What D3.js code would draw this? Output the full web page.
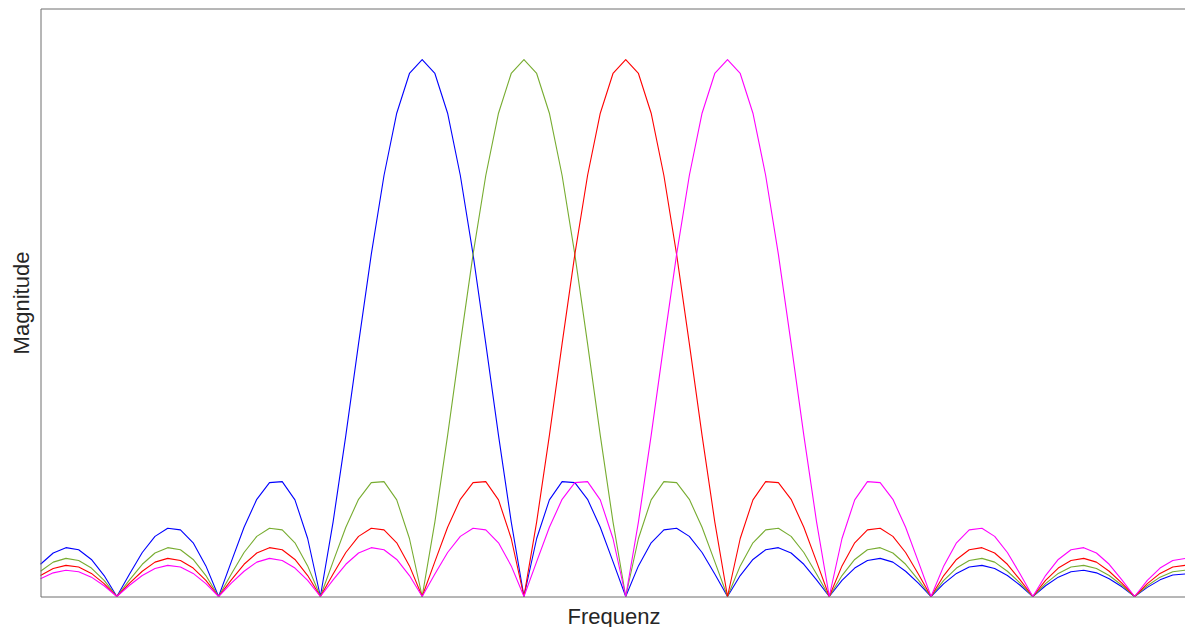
<!DOCTYPE html>
<html>
<head>
<meta charset="utf-8">
<script src="https://cdn.jsdelivr.net/npm/d3@7"></script>
<style>
html,body{margin:0;padding:0;background:#fff;overflow:hidden;}
svg{display:block;}
</style>
</head>
<body>
<svg id="chart" width="1185" height="627"></svg>
<script>
// sample index along the frequency axis (0..90), 8 samples per sub-carrier spacing
const sampleIndex = d3.range(0, 91);

const carrier1 = [
0.060,0.081,0.091,0.087,0.069,0.039,0,
0.042,0.082,0.112,0.127,0.124,0.100,0.057,0,
0.065,0.129,0.181,0.212,0.214,0.180,0.108,0,
0.139,0.300,0.471,0.637,0.784,0.900,0.974,1,
0.974,0.900,0.784,0.637,0.471,0.300,0.139,0,
0.108,0.180,0.214,0.212,0.181,0.129,0.065,0,
0.057,0.100,0.124,0.127,0.112,0.082,0.042,0,
0.039,0.069,0.087,0.091,0.081,0.060,0.031,0,
0.030,0.053,0.067,0.071,0.064,0.047,0.025,0,
0.024,0.043,0.055,0.058,0.052,0.039,0.021,0,
0.020,0.036,0.046,0.049,0.044,0.033,0.018,0,
0.017,0.031,0.040,0.042
];

const carrier2 = [
0.047,0.064,0.071,0.067,0.053,0.030,0,
0.031,0.060,0.081,0.091,0.087,0.069,0.039,0,
0.042,0.082,0.112,0.127,0.124,0.100,0.057,0,
0.065,0.129,0.181,0.212,0.214,0.180,0.108,0,
0.139,0.300,0.471,0.637,0.784,0.900,0.974,1,
0.974,0.900,0.784,0.637,0.471,0.300,0.139,0,
0.108,0.180,0.214,0.212,0.181,0.129,0.065,0,
0.057,0.100,0.124,0.127,0.112,0.082,0.042,0,
0.039,0.069,0.087,0.091,0.081,0.060,0.031,0,
0.030,0.053,0.067,0.071,0.064,0.047,0.025,0,
0.024,0.043,0.055,0.058,0.052,0.039,0.021,0,
0.020,0.036,0.046,0.049
];

const carrier3 = [
0.039,0.052,0.058,0.055,0.043,0.024,0,
0.025,0.047,0.064,0.071,0.067,0.053,0.030,0,
0.031,0.060,0.081,0.091,0.087,0.069,0.039,0,
0.042,0.082,0.112,0.127,0.124,0.100,0.057,0,
0.065,0.129,0.181,0.212,0.214,0.180,0.108,0,
0.139,0.300,0.471,0.637,0.784,0.900,0.974,1,
0.974,0.900,0.784,0.637,0.471,0.300,0.139,0,
0.108,0.180,0.214,0.212,0.181,0.129,0.065,0,
0.057,0.100,0.124,0.127,0.112,0.082,0.042,0,
0.039,0.069,0.087,0.091,0.081,0.060,0.031,0,
0.030,0.053,0.067,0.071,0.064,0.047,0.025,0,
0.024,0.043,0.055,0.058
];

const carrier4 = [
0.033,0.044,0.049,0.046,0.036,0.020,0,
0.021,0.039,0.052,0.058,0.055,0.043,0.024,0,
0.025,0.047,0.064,0.071,0.067,0.053,0.030,0,
0.031,0.060,0.081,0.091,0.087,0.069,0.039,0,
0.042,0.082,0.112,0.127,0.124,0.100,0.057,0,
0.065,0.129,0.181,0.212,0.214,0.180,0.108,0,
0.139,0.300,0.471,0.637,0.784,0.900,0.974,1,
0.974,0.900,0.784,0.637,0.471,0.300,0.139,0,
0.108,0.180,0.214,0.212,0.181,0.129,0.065,0,
0.057,0.100,0.124,0.127,0.112,0.082,0.042,0,
0.039,0.069,0.087,0.091,0.081,0.060,0.031,0,
0.030,0.053,0.067,0.071
];

const seriesValues = [carrier1, carrier2, carrier3, carrier4];
const seriesColors = ["#0000ff", "#77ac30", "#ff0000", "#ff00ff"];
const xLabel = "Frequenz";
const yLabel = "Magnitude";

const svg = d3.select("#chart");
const plotLeft = 40.5, plotRight = 1185.5, plotTop = 8.5, plotBottom = 596.5;

const x = d3.scaleLinear().domain([0, 90]).range([plotLeft, plotRight]);
const y = d3.scaleLinear().domain([0, 1.095]).range([plotBottom, plotTop]);

const line = d3.line()
  .x((d, i) => x(sampleIndex[i]))
  .y(d => y(d));

const plot = svg.append("g");
seriesValues.forEach((vals, k) => {
  plot.append("path")
    .datum(vals)
    .attr("d", line)
    .attr("fill", "none")
    .attr("stroke", seriesColors[k])
    .attr("stroke-width", 1.1)
    .attr("stroke-linejoin", "round");
});

// axes box
svg.append("g").attr("transform", `translate(0,${plotBottom})`)
  .call(d3.axisBottom(x).tickValues([]).tickSizeOuter(0))
  .call(g => g.select(".domain").attr("stroke", "#6e6e6e"));
svg.append("g").attr("transform", `translate(${plotLeft},0)`)
  .call(d3.axisLeft(y).tickValues([]).tickSizeOuter(0))
  .call(g => g.select(".domain").attr("stroke", "#6e6e6e"));
svg.append("g").attr("transform", `translate(0,${plotTop})`)
  .call(d3.axisTop(x).tickValues([]).tickSizeOuter(0))
  .call(g => g.select(".domain").attr("stroke", "#6e6e6e"));

svg.append("text")
  .attr("x", 614)
  .attr("y", 624)
  .attr("text-anchor", "middle")
  .attr("font-family", "Liberation Sans, Arial, sans-serif")
  .attr("font-size", 22)
  .attr("fill", "#262626")
  .text(xLabel);

svg.append("text")
  .attr("transform", "translate(29,303) rotate(-90)")
  .attr("text-anchor", "middle")
  .attr("font-family", "Liberation Sans, Arial, sans-serif")
  .attr("font-size", 22)
  .attr("fill", "#262626")
  .text(yLabel);
</script>
</body>
</html>
